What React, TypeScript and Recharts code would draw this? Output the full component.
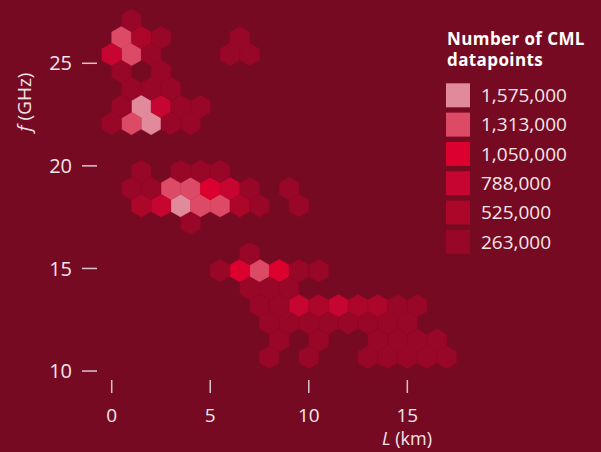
import React from 'react';
import { ScatterChart, Scatter, XAxis, YAxis } from 'recharts';

const BG = '#770A23';
const TEXT = '#F3E6EA';
const TICK = '#D9C6CB';

const legendTitle = ['Number of CML', 'datapoints'];
const levelLabels = ['1,575,000', '1,313,000', '1,050,000', '788,000', '525,000', '263,000'];
const levelColors = ['#E08A9C', '#DC4A66', '#DC002E', '#C60530', '#AC0628', '#980628'];

const xTicks = [0, 5, 10, 15];
const yTicks = [10, 15, 20, 25];

// hexagon centres [L (km), f (GHz)] grouped by count level
const cells1575k: [number, number][] = [
  [1.5, 22.89], [2, 22.07], [3.5, 18.06],
];
const cells1313k: [number, number][] = [
  [0.5, 26.25], [1, 25.43], [1, 22.07], [3, 18.89], [4, 18.89],
  [4.5, 18.06], [5.5, 18.06], [7.5, 14.89],
];
const cells1050k: [number, number][] = [
  [5, 18.89], [6.5, 14.89], [8.5, 14.89],
];
const cells788k: [number, number][] = [
  [0, 25.43], [2.5, 22.89], [6, 18.89], [2.5, 18.06], [9.5, 13.18], [11.5, 13.18],
];
const cells525k: [number, number][] = [
  [1.5, 26.25], [1.5, 18.06], [6.5, 18.06], [10.5, 13.18], [12.5, 13.18], [13.5, 13.18],
];
const cells263k: [number, number][] = [
  [1, 27.09],
  [2.5, 26.25], [6.5, 26.25],
  [2, 25.43], [6, 25.43], [7, 25.43],
  [0.5, 24.59], [2.5, 24.59],
  [1, 23.76], [2, 23.76], [3, 23.76],
  [0.5, 22.89], [3.5, 22.89], [4.5, 22.89],
  [0, 22.07], [3, 22.07], [4, 22.07],
  [1.5, 19.73], [3.5, 19.73], [4.5, 19.73], [5.5, 19.73],
  [1, 18.89], [2, 18.89], [7, 18.89], [9, 18.89],
  [7.5, 18.06], [9.5, 18.06],
  [4, 17.21],
  [7, 15.72],
  [5.5, 14.89], [9.5, 14.89], [10.5, 14.89],
  [7, 14.03], [8, 14.03], [9, 14.03],
  [7.5, 13.18], [8.5, 13.18], [14.5, 13.18], [15.5, 13.18],
  [8, 12.35], [9, 12.35], [10, 12.35], [11, 12.35], [12, 12.35], [13, 12.35], [14, 12.35], [15, 12.35],
  [8.5, 11.5], [10.5, 11.5], [13.5, 11.5], [14.5, 11.5], [15.5, 11.5], [16.5, 11.5],
  [8, 10.67], [10, 10.67], [13, 10.67], [14, 10.67], [15, 10.67], [16, 10.67], [17, 10.67],
];

const series = [cells1575k, cells1313k, cells1050k, cells788k, cells525k, cells263k];

const HEX_R = 11.4;

const Hex = (props: any) => {
  const { cx, cy, fill } = props;
  if (cx == null || cy == null) return null;
  const pts: string[] = [];
  for (let i = 0; i < 6; i++) {
    const a = (Math.PI / 180) * (60 * i - 90);
    pts.push(`${cx + HEX_R * Math.cos(a)},${cy + HEX_R * Math.sin(a)}`);
  }
  return <polygon points={pts.join(' ')} fill={fill} stroke={fill} strokeWidth={0.4} />;
};

const XTick = (props: any) => {
  const { x, payload } = props;
  return (
    <g>
      <line x1={x} x2={x} y1={380} y2={393} stroke={TICK} strokeWidth={1.5} />
      <text x={x} y={422} textAnchor="middle" fill={TEXT} fontSize={19} fontFamily="Open Sans">
        {payload.value}
      </text>
    </g>
  );
};

const YTick = (props: any) => {
  const { y, payload } = props;
  return (
    <g>
      <line x1={82} x2={97} y1={y} y2={y} stroke={TICK} strokeWidth={1.5} />
      <text x={72} y={y} dy="0.36em" textAnchor="end" fill={TEXT} fontSize={20} fontFamily="Open Sans">
        {payload.value}
      </text>
    </g>
  );
};

const XTitle = () => (
  <text x={407} y={445} textAnchor="middle" fill={TEXT} fontSize={18} fontFamily="Open Sans">
    <tspan fontStyle="italic">L</tspan> (km)
  </text>
);

const YTitle = () => (
  <text
    x={31}
    y={102}
    transform="rotate(-90 31 102)"
    textAnchor="middle"
    fill={TEXT}
    fontSize={19}
    fontFamily="Open Sans"
  >
    <tspan fontStyle="italic">f</tspan> (GHz)
  </text>
);

export default function App() {
  return (
    <div style={{ position: 'absolute', left: 0, top: 0, width: 601, height: 452, background: BG, overflow: 'hidden' }}>
      <ScatterChart width={601} height={452} margin={{ top: 12, right: 144.4, bottom: 0, left: 0 }}>
        <XAxis
          type="number"
          dataKey="L"
          domain={[-1, 17.5]}
          ticks={xTicks}
          axisLine={false}
          tickLine={false}
          height={70.7}
          tick={<XTick />}
          label={<XTitle />}
        />
        <YAxis
          type="number"
          dataKey="f"
          domain={[9.5, 27.5]}
          ticks={yTicks}
          axisLine={false}
          tickLine={false}
          width={92}
          tick={<YTick />}
          label={<YTitle />}
        />
        {series.map((cells, i) => (
          <Scatter
            key={levelLabels[i]}
            name={levelLabels[i]}
            data={cells.map(([L, f]) => ({ L, f }))}
            fill={levelColors[i]}
            isAnimationActive={false}
            shape={(p: any) => <Hex cx={p.cx} cy={p.cy} fill={levelColors[i]} />}
          />
        ))}
      </ScatterChart>
      <svg width={155} height={240} style={{ position: 'absolute', left: 446, top: 20 }}>
        <text fill="#FFFFFF" fontSize={17} fontWeight={700} letterSpacing={0.4} fontFamily="Open Sans">
          <tspan x={1} y={25}>{legendTitle[0]}</tspan>
          <tspan x={1} y={46}>{legendTitle[1]}</tspan>
        </text>
        {levelLabels.map((lab, i) => (
          <g key={lab}>
            <rect x={0} y={63.3 + i * 29.3} width={24} height={24} fill={levelColors[i]} />
            <text x={35} y={75.3 + i * 29.3} dy="0.36em" fill={TEXT} fontSize={19} fontFamily="Open Sans">{lab}</text>
          </g>
        ))}
      </svg>
    </div>
  );
}
